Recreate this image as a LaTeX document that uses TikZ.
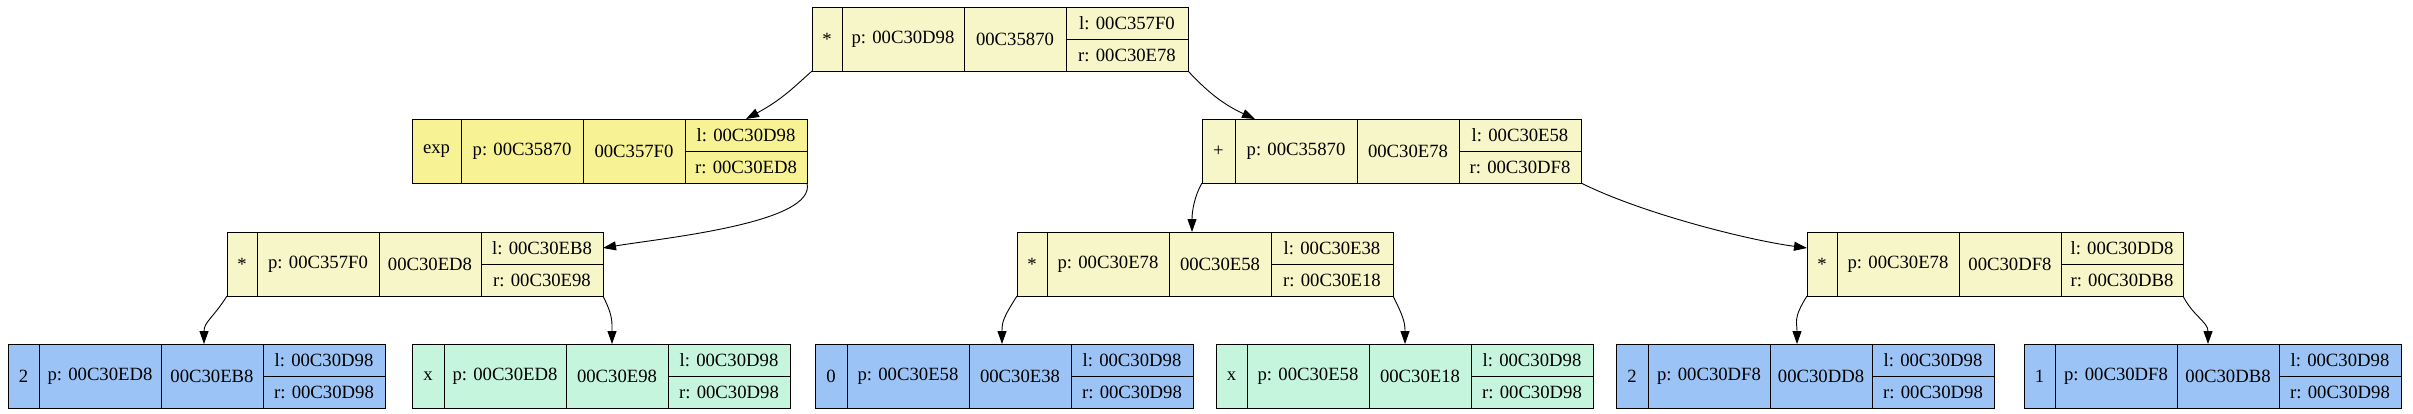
\documentclass[tikz,border=0pt]{standalone}
\usepackage{fontspec}
\setmainfont{Liberation Serif}
\usetikzlibrary{positioning}
\usetikzlibrary{arrows.meta}
\definecolor{pale}{HTML}{F6F6C8}
\definecolor{khaki}{HTML}{F7F395}
\definecolor{leafblue}{HTML}{9CC3F5}
\definecolor{leafgreen}{HTML}{C6F5DD}

\begin{document}
\begin{tikzpicture}
[x=1pt,y=1pt,
 cell/.style={shape=rectangle,draw,line width=0.9pt,outer sep=0pt,inner sep=0pt,
   minimum height=64pt,font=\fontsize{18.7}{22}\selectfont},
 half/.style={cell,minimum height=32pt,minimum width=122pt},
 link/.style={line width=0.9pt,-{Triangle[length=13pt,width=9pt]}}]

\useasboundingbox (0,0) rectangle (2413,-413);

\foreach \nm/\xx/\yy/\ww/\col/\sym/\pa/\ad/\lt/\rt in {
  root/812/7/30/pale/{*}/00C30D98/00C35870/00C357F0/00C30E78,
  exp/412/119/49/khaki/exp/00C35870/00C357F0/00C30D98/00C30ED8,
  plus/1202/119/33/pale/{+}/00C35870/00C30E78/00C30E58/00C30DF8,
  mulA/227/232/30/pale/{*}/00C357F0/00C30ED8/00C30EB8/00C30E98,
  mulB/1017/232/30/pale/{*}/00C30E78/00C30E58/00C30E38/00C30E18,
  mulC/1807/232/30/pale/{*}/00C30E78/00C30DF8/00C30DD8/00C30DB8,
  numA/8/344/31/leafblue/2/00C30ED8/00C30EB8/00C30D98/00C30D98,
  varA/412/344/32/leafgreen/x/00C30ED8/00C30E98/00C30D98/00C30D98,
  numB/815/344/32/leafblue/0/00C30E58/00C30E38/00C30D98/00C30D98,
  varB/1216/344/31/leafgreen/x/00C30E58/00C30E18/00C30D98/00C30D98,
  numC/1616/344/32/leafblue/2/00C30DF8/00C30DD8/00C30D98/00C30D98,
  numD/2024/344/31/leafblue/1/00C30DF8/00C30DB8/00C30D98/00C30D98}
{
  \node (\nm-s) [cell,fill=\col,minimum width=\ww pt,anchor=north west] at (\xx,-\yy) {\sym};
  \node (\nm-p) [cell,fill=\col,minimum width=122pt,right=0pt of \nm-s] {p: \pa};
  \node (\nm-a) [cell,fill=\col,minimum width=102pt,right=0pt of \nm-p] {\ad};
  \node (\nm-l) [half,fill=\col,anchor=north west] at (\nm-a.north east) {l: \lt};
  \node (\nm-r) [half,fill=\col,below=0pt of \nm-l] {r: \rt};
}

\draw [link] (root-s.south west) .. controls +(-20,-18) and +(35,19) .. (exp-l.north);
\draw [link] (root-r.south east) .. controls +(16,-17) and +(-35,16) .. ([xshift=20pt]plus-p.north west);
\draw [link] (exp-r.south east) .. controls +(10,-40) and +(60,10) .. (mulA-l.east);
\draw [link] (plus-s.south west) .. controls +(-8,-14) and +(0,20) .. ([xshift=23pt]mulB-a.north west);
\draw [link] (plus-r.south east) .. controls +(60,-30) and +(-60,8) .. ([yshift=16pt]mulC-s.west);

\foreach \up/\dn/\dx in {mulA/numA/43,mulB/numB/33,mulC/numC/27}
  \draw [link] (\up-s.south west) .. controls +(-14,-22) and +(0,22) .. ([xshift=\dx pt]\dn-a.north west);
\foreach \up/\dn/\dx in {mulA/varA/46,mulB/varB/36,mulC/numD/31}
  \draw [link] (\up-r.south east) .. controls +(10,-20) and +(0,22) .. ([xshift=\dx pt]\dn-a.north west);
\end{tikzpicture}
\end{document}
